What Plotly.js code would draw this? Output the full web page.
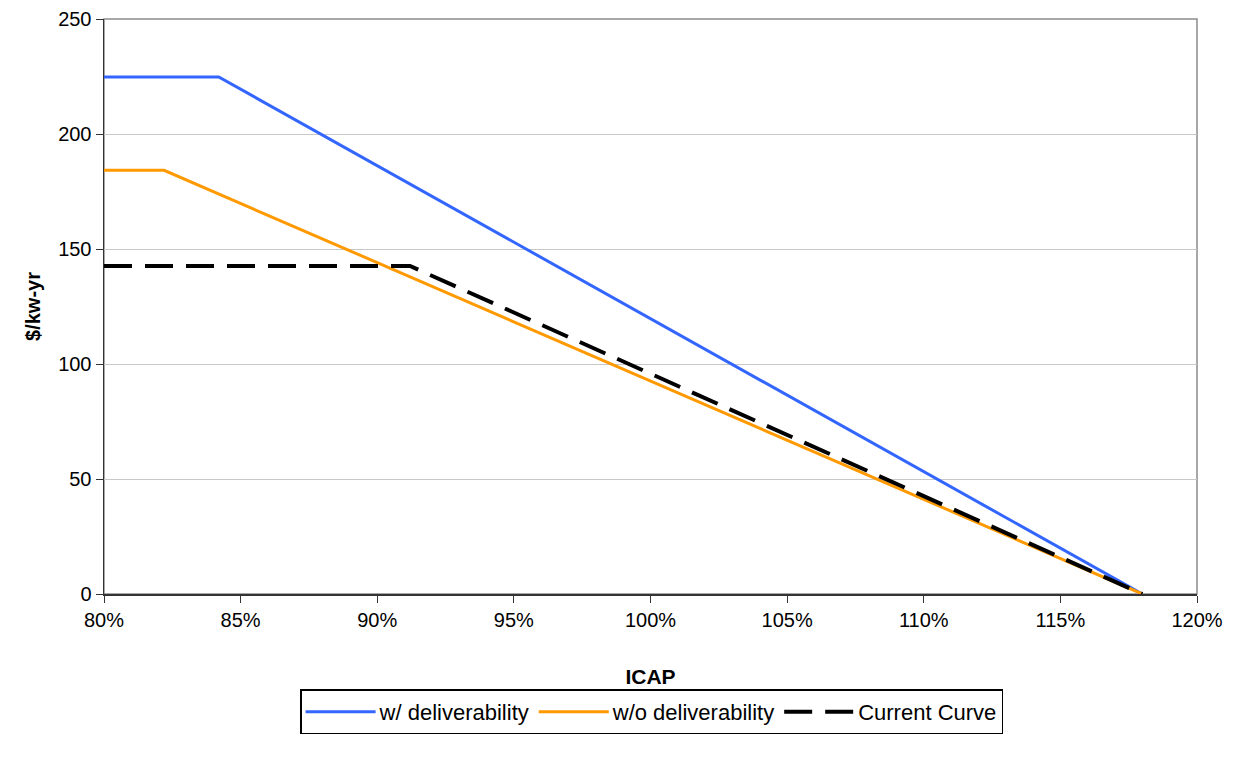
<!DOCTYPE html>
<html>
<head>
<meta charset="utf-8">
<script src="https://cdn.plot.ly/plotly-3.0.1.min.js"></script>
<style>
html,body{margin:0;padding:0;background:#fff;}
#chart{width:1244px;height:760px;}
</style>
</head>
<body>
<div id="chart"></div>
<script>
// ICAP (fraction of requirement) and price ($/kw-yr) for each curve
const seriesNames = ["w/ deliverability", "w/o deliverability", "Current Curve"];
const icapWith = [0.80, 0.842, 1.18];
const priceWith = [224.8, 224.8, 0];
const icapWithout = [0.80, 0.822, 1.18];
const priceWithout = [184.2, 184.2, 0];
const icapCurrent = [0.80, 0.912, 1.18];
const priceCurrent = [142.6, 142.6, 0];
const xTickVals = [0.80, 0.85, 0.90, 0.95, 1.00, 1.05, 1.10, 1.15, 1.20];
const xTickText = ["80%", "85%", "90%", "95%", "100%", "105%", "110%", "115%", "120%"];
const yTickVals = [0, 50, 100, 150, 200, 250];

const font = "Liberation Sans, Arial, sans-serif";

const traces = [
  {x: icapWith, y: priceWith, name: seriesNames[0], mode: "lines",
   line: {color: "#3366FF", width: 3}},
  {x: icapWithout, y: priceWithout, name: seriesNames[1], mode: "lines",
   line: {color: "#FF9900", width: 3}},
  {x: icapCurrent, y: priceCurrent, name: seriesNames[2], mode: "lines",
   line: {color: "#000000", width: 4, dash: "28px,13px"}}
];

const layout = {
  width: 1244, height: 760,
  margin: {l: 104, r: 47, t: 19, b: 166},
  paper_bgcolor: "#ffffff", plot_bgcolor: "#ffffff",
  font: {family: font, size: 20, color: "#000"},
  showlegend: true,
  legend: {
    orientation: "h", x: 0.501, xanchor: "center", y: -0.205, yanchor: "middle",
    bordercolor: "#000", borderwidth: 1.5, font: {family: font, size: 22, color: "#000"},
    traceorder: "normal", itemwidth: 68, tracegroupgap: 0
  },
  shapes: [
    {type: "rect", xref: "paper", yref: "paper", x0: 0, x1: 1, y0: 0, y1: 1,
     line: {color: "#8c8c8c", width: 1.5}, layer: "below"}
  ],
  xaxis: {
    range: [0.80, 1.20], tickvals: xTickVals, ticktext: xTickText,
    showgrid: false, zeroline: false,
    showline: true, linecolor: "#333333", linewidth: 1.5,
    ticks: "outside", ticklen: 7, tickcolor: "#333333",
    tickfont: {family: font, size: 20, color: "#000"},
    title: {text: "<b>ICAP</b>", font: {family: font, size: 21, color: "#000"}, standoff: 40}
  },
  yaxis: {
    range: [0, 250], tickvals: yTickVals,
    showgrid: true, gridcolor: "#c8c8c8", gridwidth: 1, zeroline: false,
    showline: true, linecolor: "#333333", linewidth: 1.5,
    ticks: "outside", ticklen: 7, tickcolor: "#333333",
    tickfont: {family: font, size: 20, color: "#000"},
    title: {text: "<b>$/kw-yr</b>", font: {family: font, size: 20, color: "#000"}, standoff: 12}
  }
};

Plotly.newPlot("chart", traces, layout, {displayModeBar: false, staticPlot: true}).then(function (gd) {
  // lengthen the legend line samples to fill the wider item slot
  gd.querySelectorAll(".legend .legendlines path").forEach(function (p) {
    p.setAttribute("d", "M4,0h70");
  });
});
</script>
</body>
</html>
